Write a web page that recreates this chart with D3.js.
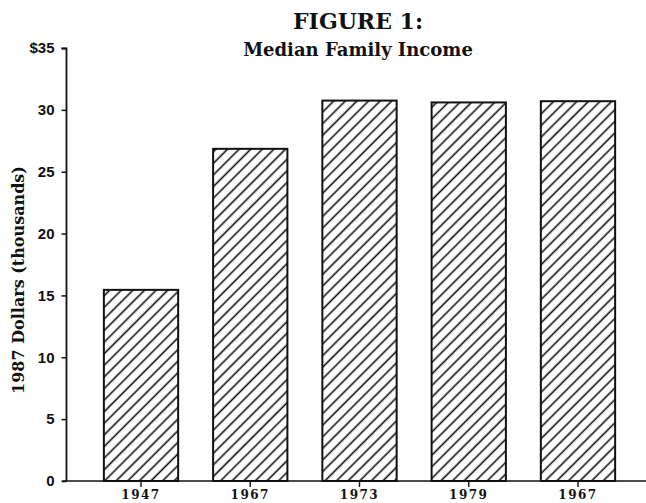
<!DOCTYPE html>
<html>
<head>
<meta charset="utf-8">
<script src="https://cdn.jsdelivr.net/npm/d3@7"></script>
<style>
  body { margin: 0; background: #fff; }
</style>
</head>
<body>
<div id="chart-area"></div>
<script>
let width = 646;
let height = 503;

// data (thousands of 1987 dollars)
let years = ["1947", "1967", "1973", "1979", "1967b"];
let yearLabels = ["1947", "1967", "1973", "1979", "1967"];
let incomes = [15.45, 26.85, 30.75, 30.6, 30.7];
let yTicks = [0, 5, 10, 15, 20, 25, 30, 35];

let svg = d3.select("#chart-area")
	.append("svg")
	.attr("width", width)
	.attr("height", height);

// diagonal hatch fill
let defs = svg.append("defs");
defs.append("pattern")
	.attr("id", "hatch")
	.attr("patternUnits", "userSpaceOnUse")
	.attr("width", 8.2)
	.attr("height", 8.2)
	.attr("patternTransform", "rotate(45)")
	.append("line")
	.attr("x1", 4).attr("y1", 0)
	.attr("x2", 4).attr("y2", 8.2)
	.attr("stroke", "#111")
	.attr("stroke-width", 1.6);

let x = d3.scaleBand()
	.domain(years)
	.range([70, 649])
	.paddingInner(0.32)
	.paddingOuter(0.31);

let y = d3.scaleLinear()
	.domain([0, 35])
	.range([481, 48]);

// bars
svg.selectAll("rect.bar")
	.data(incomes)
	.enter()
	.append("rect")
	.attr("class", "bar")
	.attr("x", (d, i) => x(years[i]))
	.attr("y", d => y(d))
	.attr("width", x.bandwidth())
	.attr("height", d => y(0) - y(d))
	.attr("fill", "url(#hatch)")
	.attr("stroke", "#111")
	.attr("stroke-width", 2);

// y axis
let yAxis = d3.axisLeft(y)
	.tickValues(yTicks)
	.tickSize(5)
	.tickPadding(7)
	.tickFormat(d => d === 35 ? "$35" : d);

let yg = svg.append("g")
	.attr("transform", "translate(66.5, 0)")
	.call(yAxis);
yg.select(".domain").attr("stroke", "#111").attr("stroke-width", 1.8).attr("d", "M-5,48.5H0V481");
yg.selectAll(".tick line").attr("stroke", "#111").attr("stroke-width", 1.5);
yg.selectAll(".tick text")
	.style("font-family", "'Liberation Sans', Arial, sans-serif")
	.style("font-weight", "bold")
	.style("font-size", "15px")
	.attr("fill", "#111");

// x axis / baseline
let xAxis = d3.axisBottom(x)
	.tickSize(6)
	.tickPadding(3)
	.tickFormat((d, i) => yearLabels[i]);

let xg = svg.append("g")
	.attr("transform", "translate(0, 481)")
	.call(xAxis);
xg.select(".domain").attr("stroke", "#111").attr("stroke-width", 1.6).attr("d", "M62,0H646");
xg.selectAll(".tick line").attr("stroke", "#111").attr("stroke-width", 1.4);
xg.selectAll(".tick text")
	.style("font-family", "'DejaVu Serif', serif")
	.style("font-weight", "bold")
	.style("font-size", "12px")
	.style("letter-spacing", "1.5px")
	.attr("fill", "#111");

// titles
svg.append("text")
	.attr("x", 358)
	.attr("y", 29)
	.attr("text-anchor", "middle")
	.style("font-family", "'DejaVu Serif', serif")
	.style("font-weight", "bold")
	.style("font-size", "22px")
	.attr("fill", "#111")
	.text("FIGURE 1:");

svg.append("text")
	.attr("x", 358)
	.attr("y", 56)
	.attr("text-anchor", "middle")
	.style("font-family", "'DejaVu Serif', serif")
	.style("font-weight", "bold")
	.style("font-size", "18px")
	.attr("fill", "#111")
	.text("Median Family Income");

svg.append("text")
	.attr("x", -280)
	.attr("y", 24)
	.attr("transform", "rotate(-90)")
	.attr("text-anchor", "middle")
	.style("font-family", "'DejaVu Serif', serif")
	.style("font-weight", "bold")
	.style("font-size", "16px")
	.attr("fill", "#111")
	.text("1987 Dollars (thousands)");
</script>
</body>
</html>
